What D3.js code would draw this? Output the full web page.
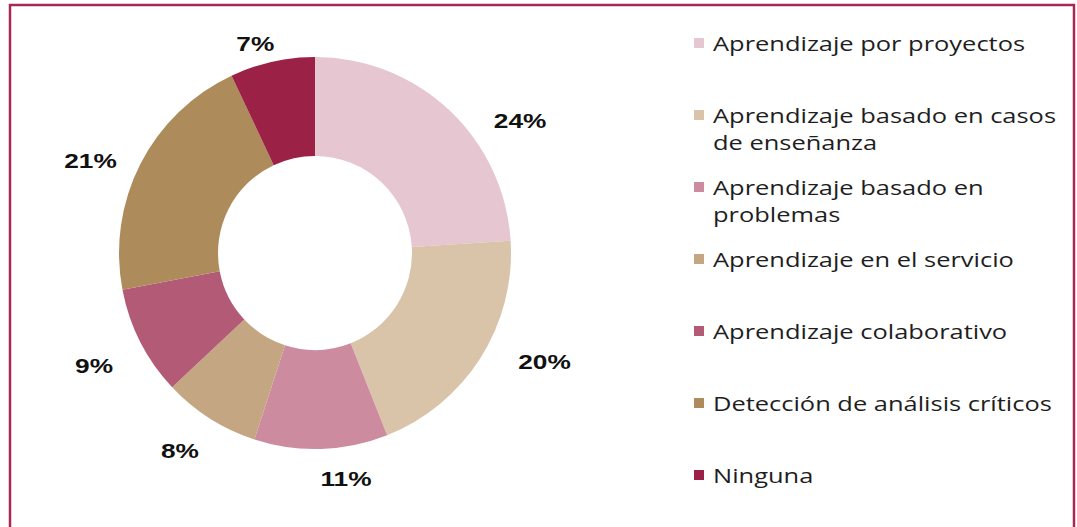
<!DOCTYPE html>
<meta charset="utf-8">
<style>
body { margin: 0; background: #fff; }
.legend text {
  font-family: "Open Sans", sans-serif;
  font-size: 20px;
  font-weight: 500;
  fill: #1e1e1e;
}
.pct {
  font-family: "Liberation Sans", Arial, sans-serif;
  font-weight: bold;
  font-size: 21px;
  fill: #111;
}
</style>
<body>
<script src="https://cdn.jsdelivr.net/npm/d3@7"></script>
<script>
// chart data
var categories = [
  "Aprendizaje por proyectos",
  "Aprendizaje basado en casos de enseñanza",
  "Aprendizaje basado en problemas",
  "Aprendizaje en el servicio",
  "Aprendizaje colaborativo",
  "Detección de análisis críticos",
  "Ninguna"
];
var values = [24, 20, 11, 8, 9, 21, 7];
// how the legend wraps each label
var legendLines = [
  ["Aprendizaje por proyectos"],
  ["Aprendizaje basado en casos", "de enseñanza"],
  ["Aprendizaje basado en", "problemas"],
  ["Aprendizaje en el servicio"],
  ["Aprendizaje colaborativo"],
  ["Detección de análisis críticos"],
  ["Ninguna"]
];
var colors = ["#e6c6d0", "#d9c4a9", "#cd8b9f", "#c4a782", "#b35a76", "#ae8b5a", "#9b2246"];

// label placement tweaks (degrees added to mid angle, radius)
var labelShift = [14, -7, -6, 2, 0, -4.5, -3.3];
var labelRadius = [244, 254, 228, 239, 248, 243, 218];

var W = 1077, H = 527;
var cx = 315, cy = 253, outerR = 196, innerR = 97;

var svg = d3.select("body").append("svg")
    .attr("width", W)
    .attr("height", H);

// frame
svg.append("path")
    .attr("d", "M10," + H + "V5H1074V" + H)
    .attr("fill", "none")
    .attr("stroke", "#a62a4f")
    .attr("stroke-width", 2.5);

var pie = d3.pie().sort(null).value(function(d) { return d; });
var arcs = pie(values);

var arc = d3.arc().innerRadius(innerR).outerRadius(outerR);

var g = svg.append("g").attr("transform", "translate(" + cx + "," + cy + ")");

g.selectAll("path.slice")
  .data(arcs)
  .enter().append("path")
    .attr("class", "slice")
    .attr("d", arc)
    .attr("fill", function(d, i) { return colors[i]; });

// percentage labels
g.selectAll("text.pct")
  .data(arcs)
  .enter().append("text")
    .attr("class", "pct")
    .attr("text-anchor", "middle")
    .attr("dominant-baseline", "central")
    .attr("transform", function(d, i) {
      var a = (d.startAngle + d.endAngle) / 2 + labelShift[i] * Math.PI / 180;
      var r = labelRadius[i];
      var x = r * Math.sin(a), y = -r * Math.cos(a);
      return "translate(" + x + "," + y + ") scale(1.25,1)";
    })
    .text(function(d) { return d.data + "%"; });

// legend
var legend = svg.append("g").attr("class", "legend");
var item = legend.selectAll("g")
  .data(categories)
  .enter().append("g")
    .attr("transform", function(d, i) { return "translate(694," + (51 + i * 72) + ")"; });

item.append("rect")
    .attr("x", 0)
    .attr("y", -13)
    .attr("width", 10)
    .attr("height", 10)
    .attr("fill", function(d, i) { return colors[i]; });

var texts = item.append("text")
    .each(function(d, i) {
      var t = d3.select(this);
      legendLines[i].forEach(function(line, k) {
        t.append("tspan")
          .attr("x", 0)
          .attr("dy", k === 0 ? 0 : 27.5)
          .text(line);
      });
    });

// the source text is drawn wide: stretch so the longest line spans ~339px
var longest = texts.filter(function(d, i) { return i === 5; }).node().getComputedTextLength();
var sx = 339 / longest;
texts.attr("transform", "translate(19,0) scale(" + sx + ",1)");
</script>
</body>
